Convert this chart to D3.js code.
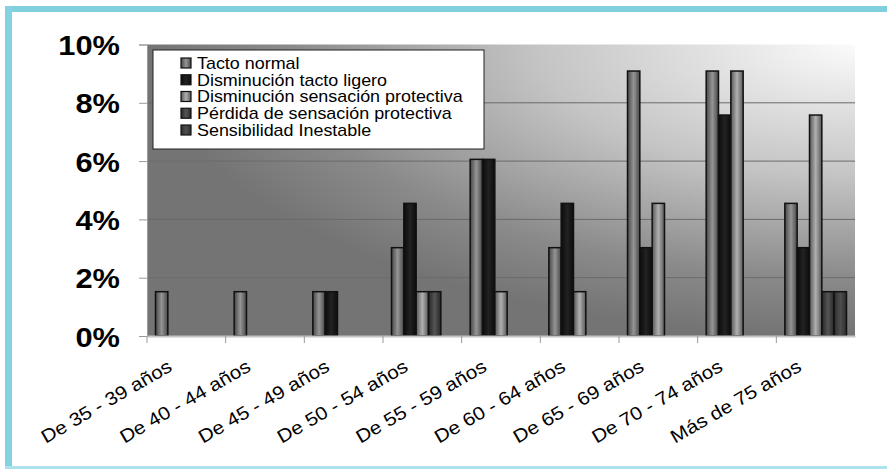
<!DOCTYPE html>
<html>
<head>
<meta charset="utf-8">
<script src="https://cdn.jsdelivr.net/npm/d3@7"></script>
<style>
  html, body { margin: 0; padding: 0; background: #fff; }
  svg { display: block; font-family: "Liberation Sans", Arial, sans-serif; }
</style>
</head>
<body>
<svg id="chart" width="887" height="469"></svg>
<script>
const categories = ["De 35 - 39 años", "De 40 - 44 años", "De 45 - 49 años", "De 50 - 54 años",
  "De 55 - 59 años", "De 60 - 64 años", "De 65 - 69 años", "De 70 - 74 años", "Más de 75 años"];
const seriesNames = ["Tacto normal", "Disminución tacto ligero", "Disminución sensación protectiva",
  "Pérdida de sensación protectiva", "Sensibilidad Inestable"];
const tactoNormal = [1.52, 1.52, 1.52, 3.03, 6.06, 3.03, 9.09, 9.09, 4.55];
const disminucionTactoLigero = [0, 0, 1.52, 4.55, 6.06, 4.55, 3.03, 7.58, 3.03];
const disminucionSensacionProtectiva = [0, 0, 0, 1.52, 1.52, 1.52, 4.55, 9.09, 7.58];
const perdidaSensacionProtectiva = [0, 0, 0, 1.52, 0, 0, 0, 0, 1.52];
const sensibilidadInestable = [0, 0, 0, 0, 0, 0, 0, 0, 1.52];
const yTicks = [0, 2, 4, 6, 8, 10];

const seriesValues = [tactoNormal, disminucionTactoLigero, disminucionSensacionProtectiva,
  perdidaSensacionProtectiva, sensibilidadInestable];
const seriesEdge = ["#474747", "#0c0c0c", "#575757", "#262626", "#2e2e2e"];
const seriesMid = ["#959595", "#222222", "#b0b0b0", "#555555", "#4e4e4e"];

const svg = d3.select("#chart");
const defs = svg.append("defs");

// frame
svg.append("rect").attr("x", 5).attr("y", 6).attr("width", 882).attr("height", 6).attr("fill", "#7fcfdf");
svg.append("rect").attr("x", 5).attr("y", 6).attr("width", 7).attr("height", 463).attr("fill", "#85d2e1");
svg.append("rect").attr("x", 5).attr("y", 466).attr("width", 882).attr("height", 3).attr("fill", "#abe2ec");

const plot = { left: 147, right: 855, top: 44.5, bottom: 336 };

// plot background gradient
const bg = defs.append("radialGradient").attr("id", "bg")
  .attr("cx", 1).attr("cy", 0).attr("r", 1).attr("fx", 1).attr("fy", 0);
bg.append("stop").attr("offset", 0).attr("stop-color", "#fbfbfb");
bg.append("stop").attr("offset", 0.45).attr("stop-color", "#c4c4c4");
bg.append("stop").attr("offset", 0.8).attr("stop-color", "#8a8a8a");
bg.append("stop").attr("offset", 1).attr("stop-color", "#747474");

svg.append("rect").attr("x", plot.left).attr("y", plot.top)
  .attr("width", plot.right - plot.left).attr("height", plot.bottom - plot.top)
  .attr("fill", "url(#bg)");

const y = d3.scaleLinear().domain([0, 10]).range([plot.bottom, plot.top]);
const x0 = d3.scaleBand().domain(categories).range([plot.left, plot.right]).padding(0);
const bw0 = x0.bandwidth();
const x1 = d3.scaleBand().domain(seriesNames).range([8.5, bw0 - 8.5]).padding(0);

// gridlines
svg.append("g").selectAll("line").data(yTicks.filter(d => d > 0 && d < 10)).join("line")
  .attr("x1", plot.left).attr("x2", plot.right)
  .attr("y1", d => y(d)).attr("y2", d => y(d))
  .attr("stroke", "#6a6a6a").attr("stroke-width", 1);

// gradients per series
seriesNames.forEach((s, i) => {
  const g = defs.append("linearGradient").attr("id", "sg" + i)
    .attr("x1", 0).attr("x2", 1).attr("y1", 0).attr("y2", 0);
  g.append("stop").attr("offset", 0).attr("stop-color", seriesEdge[i]);
  g.append("stop").attr("offset", 0.5).attr("stop-color", seriesMid[i]);
  g.append("stop").attr("offset", 1).attr("stop-color", seriesEdge[i]);
});

// bars
const barData = [];
categories.forEach((c, ci) => {
  seriesNames.forEach((s, si) => {
    const v = seriesValues[si][ci];
    if (v > 0) barData.push({ c, s, si, v });
  });
});
svg.append("g").selectAll("rect").data(barData).join("rect")
  .attr("x", d => x0(d.c) + x1(d.s))
  .attr("y", d => y(d.v))
  .attr("width", x1.bandwidth())
  .attr("height", d => y(0) - y(d.v))
  .attr("fill", d => "url(#sg" + d.si + ")")
  .attr("stroke", "#111").attr("stroke-width", 1.5);

// axes
const yAxis = svg.append("g").attr("transform", `translate(${plot.left},0)`)
  .call(d3.axisLeft(y).tickValues(yTicks).tickSize(8).tickFormat(d => d + "%"));
yAxis.select(".domain").attr("stroke", "#9a9a9a");
yAxis.selectAll(".tick line").attr("stroke", "#9a9a9a");
yAxis.selectAll(".tick text")
  .attr("x", 0).attr("dy", null).attr("y", 0)
  .attr("text-anchor", "end")
  .attr("font-size", 28).attr("font-weight", "bold").attr("fill", "#000")
  .attr("font-family", "'Liberation Sans', Arial, sans-serif")
  .attr("transform", "translate(-27,10) scale(1.1,1)");

const xAxis = svg.append("g").attr("transform", `translate(0,${plot.bottom})`)
  .call(d3.axisBottom(x0).tickSize(0).tickFormat(""));
xAxis.select(".domain").attr("stroke", "#c4c4c4").attr("stroke-width", 2);
// tick marks at category boundaries
svg.append("g").selectAll("line").data(categories).join("line")
  .attr("x1", d => x0(d)).attr("x2", d => x0(d))
  .attr("y1", plot.bottom).attr("y2", plot.bottom + 7)
  .attr("stroke", "#9a9a9a");

// x labels
svg.append("g").selectAll("text").data(categories).join("text")
  .attr("transform", d => `translate(${x0(d) + bw0 / 2 - 13},370) rotate(-30) scale(1.12,1)`)
  .attr("text-anchor", "end")
  .attr("font-size", 18.5).attr("fill", "#000")
  .text(d => d);

// legend
const lg = svg.append("g");
lg.append("rect").attr("x", 153).attr("y", 50).attr("width", 331).attr("height", 99)
  .attr("fill", "#fff").attr("stroke", "#222").attr("stroke-width", 1);
const items = lg.selectAll("g.item").data(seriesNames).join("g").attr("class", "item")
  .attr("transform", (d, i) => `translate(181,${63 + i * 16.75})`);
items.append("rect").attr("x", 0).attr("y", -5).attr("width", 10).attr("height", 10)
  .attr("fill", (d, i) => "url(#sg" + i + ")").attr("stroke", "#111").attr("stroke-width", 1.2);
items.append("text")
  .attr("transform", "translate(16,5.8) scale(1.12,1)")
  .attr("font-size", 16).attr("fill", "#000")
  .text(d => d);
</script>
</body>
</html>
